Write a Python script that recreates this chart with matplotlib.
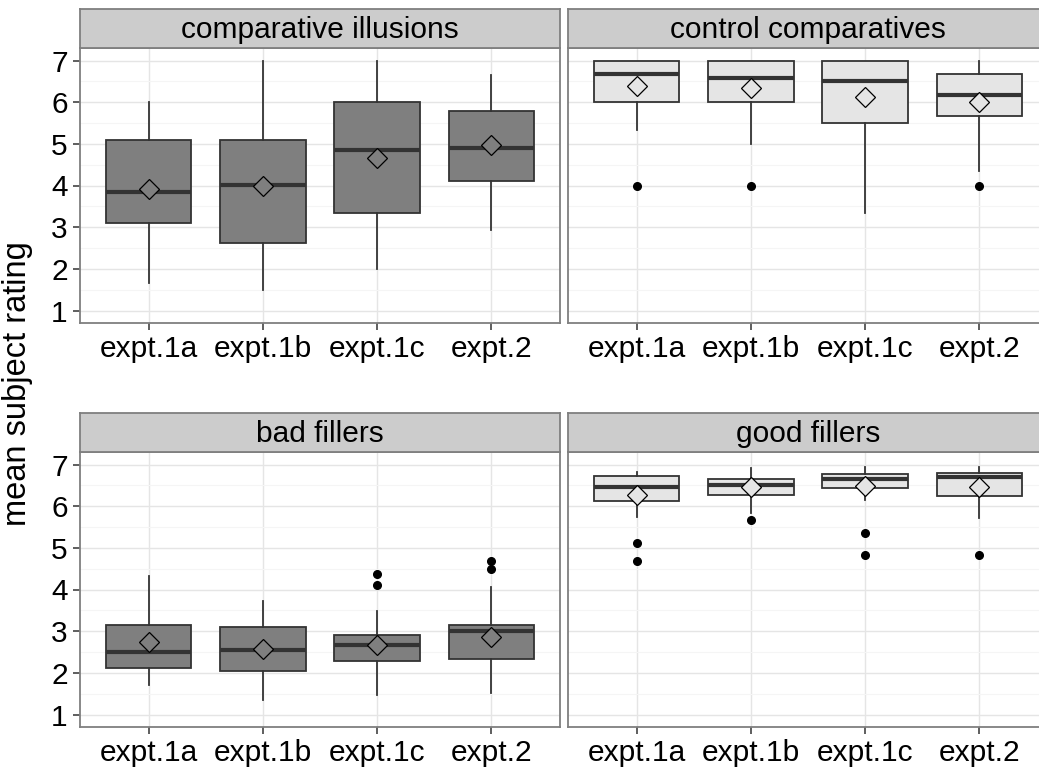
import matplotlib
matplotlib.use("Agg")
import matplotlib.pyplot as plt
from matplotlib.ticker import MultipleLocator

plt.rcParams['font.family'] = ['Liberation Sans', 'DejaVu Sans']

categories = ['expt.1a', 'expt.1b', 'expt.1c', 'expt.2']
panel_titles = ['comparative illusions', 'control comparatives', 'bad fillers', 'good fillers']

# comparative illusions
ci_whislo = [1.66, 1.50, 2.00, 2.94]
ci_q1 = [3.09, 2.62, 3.34, 4.12]
ci_med = [3.84, 4.01, 4.85, 4.91]
ci_q3 = [5.09, 5.09, 6.00, 5.78]
ci_whishi = [6.00, 7.00, 7.00, 6.66]
ci_mean = [3.92, 4.00, 4.66, 4.97]
ci_fliers = [[], [], [], []]

# control comparatives
cc_whislo = [5.34, 5.00, 3.34, 4.34]
cc_q1 = [6.00, 6.00, 5.50, 5.67]
cc_med = [6.67, 6.59, 6.50, 6.17]
cc_q3 = [7.00, 7.00, 7.00, 6.67]
cc_whishi = [7.00, 7.00, 7.00, 7.00]
cc_mean = [6.38, 6.34, 6.12, 6.00]
cc_fliers = [[4.0], [4.0], [], [4.0]]

# bad fillers
bf_whislo = [1.72, 1.36, 1.46, 1.52]
bf_q1 = [2.11, 2.05, 2.29, 2.34]
bf_med = [2.49, 2.55, 2.66, 3.01]
bf_q3 = [3.16, 3.09, 2.91, 3.14]
bf_whishi = [4.32, 3.72, 3.48, 4.05]
bf_mean = [2.73, 2.58, 2.68, 2.87]
bf_fliers = [[], [], [4.10, 4.38], [4.50, 4.69]]

# good fillers
gf_whislo = [5.74, 5.83, 6.14, 5.71]
gf_q1 = [6.12, 6.27, 6.44, 6.25]
gf_med = [6.46, 6.51, 6.65, 6.70]
gf_q3 = [6.72, 6.66, 6.78, 6.79]
gf_whishi = [6.82, 6.91, 6.95, 6.94]
gf_mean = [6.27, 6.45, 6.48, 6.47]
gf_fliers = [[4.69, 5.12], [5.68], [4.83, 5.36], [4.83]]

panel_data = [
    (ci_whislo, ci_q1, ci_med, ci_q3, ci_whishi, ci_mean, ci_fliers),
    (cc_whislo, cc_q1, cc_med, cc_q3, cc_whishi, cc_mean, cc_fliers),
    (bf_whislo, bf_q1, bf_med, bf_q3, bf_whishi, bf_mean, bf_fliers),
    (gf_whislo, gf_q1, gf_med, gf_q3, gf_whishi, gf_mean, gf_fliers),
]
fills = ['#7f7f7f', '#e5e5e5', '#7f7f7f', '#e5e5e5']

W, H = 1039, 768
fig = plt.figure(figsize=(W / 100, H / 100), dpi=100)

# panel pixel geometry
px_left = [80, 568]
px_rows = [(48, 323), (452, 727)]
pw = 480
strip_h = 39

edge = '#333333'
border = '#7f7f7f'
fs = 21.5

for i in range(4):
    r, c = divmod(i, 2)
    left = px_left[c]
    top, bot = px_rows[r]
    ax = fig.add_axes([left / W, 1 - bot / H, pw / W, (bot - top) / H])
    whislo, q1, med, q3, whishi, mean, fliers = panel_data[i]
    stats = []
    for k in range(len(categories)):
        stats.append(dict(med=med[k], q1=q1[k], q3=q3[k], whislo=whislo[k],
                          whishi=whishi[k], mean=mean[k], fliers=fliers[k]))
    pos = list(range(1, len(categories) + 1))
    ax.bxp(stats, positions=pos, widths=0.75, patch_artist=True,
           showcaps=False, showmeans=True, showfliers=True,
           boxprops=dict(facecolor=fills[i], edgecolor=edge, linewidth=1.3),
           whiskerprops=dict(color=edge, linewidth=1.3),
           medianprops=dict(color=edge, linewidth=3.0, solid_capstyle='butt'),
           flierprops=dict(marker='o', markerfacecolor='black', markeredgecolor='black',
                           markersize=5.5, linestyle='none'),
           meanprops=dict(marker='D', markerfacecolor=fills[i], markeredgecolor='black',
                          markersize=9.8, markeredgewidth=0.9),
           zorder=3)
    ax.set_xlim(0.4, 4.6)
    ax.set_ylim(0.7, 7.3)
    ax.set_xticks(pos)
    ax.set_xticklabels(categories)
    ax.yaxis.set_major_locator(MultipleLocator(1))
    ax.yaxis.set_minor_locator(MultipleLocator(0.5))
    ax.grid(which='major', color='#e5e5e5', linewidth=1.0, zorder=0)
    ax.grid(which='minor', axis='y', color='#f5f5f5', linewidth=0.8, zorder=0)
    ax.set_axisbelow(True)
    ax.tick_params(axis='both', which='major', labelsize=fs, length=5.3, width=1.1,
                   color='#333333', labelcolor='black', pad=3.5)
    ax.tick_params(axis='both', which='minor', length=0)
    if c == 1:
        ax.tick_params(axis='y', which='major', labelleft=False, length=0)
    for s in ax.spines.values():
        s.set_color(border)
        s.set_linewidth(1.3)

    sax = fig.add_axes([left / W, 1 - top / H, pw / W, strip_h / H])
    sax.set_facecolor('#cccccc')
    sax.set_xticks([])
    sax.set_yticks([])
    for s in sax.spines.values():
        s.set_color(border)
        s.set_linewidth(1.3)
    sax.text(0.5, 0.45, panel_titles[i], ha='center', va='center', fontsize=fs,
             transform=sax.transAxes, color='black')

fig.text(18 / W, 0.5, 'mean subject rating', rotation=90, ha='center', va='center',
         fontsize=23.5, color='black')

fig.savefig('out.png', dpi=100)
